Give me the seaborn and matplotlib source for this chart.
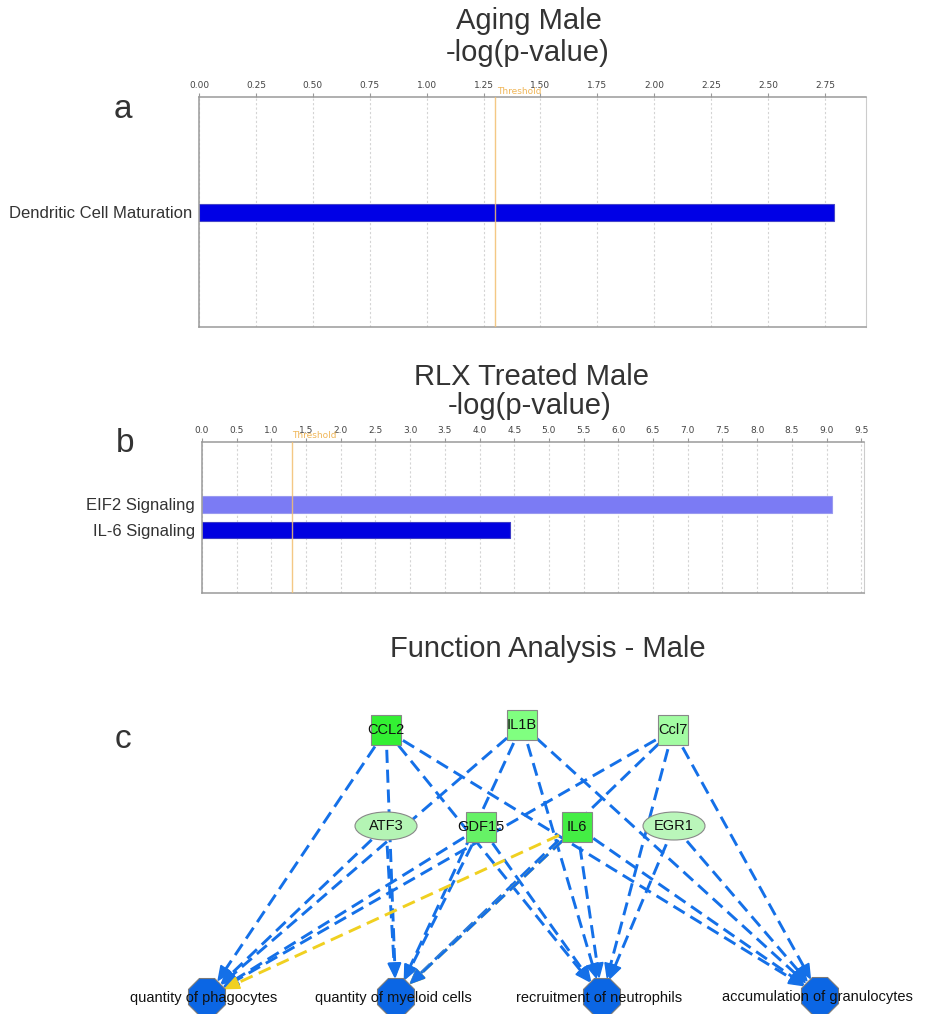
import numpy as np
import pandas as pd
import matplotlib.pyplot as plt
from matplotlib.patches import Rectangle, Ellipse, RegularPolygon, Polygon
import seaborn as sns

# Panel a - Aging Male
aging_pathways = ["Dendritic Cell Maturation"]
aging_logp = [2.79]

# Panel b - RLX Treated Male
rlx_pathways = ["EIF2 Signaling", "IL-6 Signaling"]
rlx_logp = [9.08, 4.44]

threshold = 1.3

# Panel c - network
genes = ["CCL2", "IL1B", "Ccl7", "ATF3", "GDF15", "IL6", "EGR1"]
gene_shapes = ["square", "square", "square", "ellipse", "square", "square", "ellipse"]
functions = ["quantity of phagocytes", "quantity of myeloid cells",
             "recruitment of neutrophils", "accumulation of granulocytes"]
edges = [
    ("CCL2", "quantity of phagocytes", "blue"),
    ("CCL2", "quantity of myeloid cells", "blue"),
    ("CCL2", "recruitment of neutrophils", "blue"),
    ("CCL2", "accumulation of granulocytes", "blue"),
    ("IL1B", "quantity of phagocytes", "blue"),
    ("IL1B", "quantity of myeloid cells", "blue"),
    ("IL1B", "recruitment of neutrophils", "blue"),
    ("IL1B", "accumulation of granulocytes", "blue"),
    ("Ccl7", "quantity of phagocytes", "blue"),
    ("Ccl7", "quantity of myeloid cells", "blue"),
    ("Ccl7", "recruitment of neutrophils", "blue"),
    ("Ccl7", "accumulation of granulocytes", "blue"),
    ("ATF3", "quantity of phagocytes", "blue"),
    ("ATF3", "quantity of myeloid cells", "blue"),
    ("GDF15", "quantity of phagocytes", "blue"),
    ("GDF15", "quantity of myeloid cells", "blue"),
    ("GDF15", "recruitment of neutrophils", "blue"),
    ("IL6", "quantity of phagocytes", "yellow"),
    ("IL6", "quantity of myeloid cells", "yellow"),
    ("IL6", "quantity of myeloid cells", "blue"),
    ("IL6", "recruitment of neutrophils", "blue"),
    ("IL6", "accumulation of granulocytes", "blue"),
    ("EGR1", "recruitment of neutrophils", "blue"),
    ("EGR1", "accumulation of granulocytes", "blue"),
]

# layout of the network in figure pixels
layout = {
    "CCL2": (386, 730), "IL1B": (522, 725), "Ccl7": (673, 730),
    "ATF3": (386, 826), "GDF15": (481, 827), "IL6": (577, 827), "EGR1": (674, 826),
    "quantity of phagocytes": (207, 997), "quantity of myeloid cells": (396, 997),
    "recruitment of neutrophils": (602, 997), "accumulation of granulocytes": (820, 996),
}
gene_colors = {"CCL2": "#33f033", "IL1B": "#80ff80", "Ccl7": "#a2fca2", "ATF3": "#b4f4b4",
               "GDF15": "#66f266", "IL6": "#44ee44", "EGR1": "#baf6ba"}
edge_colors = {"blue": "#1470e8", "yellow": "#f0d020"}

W, H = 928, 1014

sns.set_style("white")
plt.rcParams["font.family"] = ["Liberation Sans", "DejaVu Sans"]

fig = plt.figure(figsize=(W / 100, H / 100), dpi=100)


def fx(x):
    return x / W


def fy(y):
    return 1 - y / H


def style_bar_axis(ax, ticks, fmt, xmax):
    ax.set_xlim(0, xmax)
    ax.xaxis.tick_top()
    ax.set_xticks(ticks)
    ax.set_xticklabels([fmt % t for t in ticks], fontsize=6.5, color="#444444",
                       fontfamily="DejaVu Sans")
    ax.tick_params(axis="x", length=3, color="#999999", pad=2)
    ax.tick_params(axis="y", length=0, labelsize=12, labelcolor="#333333", pad=5)
    ax.grid(axis="x", linestyle=(0, (2, 2)), color="#d4d4d4", lw=0.8)
    ax.grid(axis="y", visible=False)
    ax.set_axisbelow(True)
    ax.set_xlabel("")
    ax.set_ylabel("")
    for side in ["left", "top", "bottom"]:
        ax.spines[side].set_color("#9a9a9a")
        ax.spines[side].set_linewidth(1.1)
    ax.spines["right"].set_color("#cccccc")
    ax.axvline(threshold, color="#f3bf70", lw=1.0, alpha=0.85, zorder=3)


# ---- panel a
ax_a = fig.add_axes([fx(199), fy(327), (866 - 199) / W, 230 / H])
df_a = pd.DataFrame({"pathway": aging_pathways, "logp": aging_logp})
sns.barplot(data=df_a, x="logp", y="pathway", hue="pathway", palette=["#0000e6"],
            saturation=1, orient="h", width=0.074, legend=False, ax=ax_a,
            edgecolor="#4646c8", linewidth=0.8)
ax_a.set_ylim(0.498, -0.502)
style_bar_axis(ax_a, np.arange(0, 2.76, 0.25), "%.2f", 2.93)

# ---- panel b
ax_b = fig.add_axes([fx(202), fy(593), (864 - 202) / W, 151 / H])
df_b = pd.DataFrame({"pathway": rlx_pathways, "logp": rlx_logp})
sns.barplot(data=df_b, x="logp", y="pathway", hue="pathway",
            palette=["#7b7bf4", "#0000e0"], saturation=1, orient="h", width=0.63,
            legend=False, ax=ax_b, linewidth=0.8)
for patch, ec in zip(ax_b.patches, ["#9a9af0", "#3c3cc8"]):
    patch.set_edgecolor(ec)
ax_b.set_ylim(3.47, -2.45)
style_bar_axis(ax_b, np.arange(0, 9.51, 0.5), "%.1f", 9.54)

# titles and panel letters
for txt, x, y in [("Aging Male", 529, 21), ("-log(p-value)", 528, 53),
                  ("RLX Treated Male", 532, 377), ("-log(p-value)", 530, 406),
                  ("Function Analysis - Male", 548, 649)]:
    fig.text(fx(x), fy(y), txt, ha="center", va="center", fontsize=21, color="#333333")
for txt, x, y in [("a", 123, 110), ("b", 125, 444), ("c", 123, 740)]:
    fig.text(fx(x), fy(y), txt, ha="center", va="center", fontsize=24, color="#333333")
fig.text(fx(497), fy(91), "Threshold", ha="left", va="center", fontsize=6.5,
         color="#f0b658", fontfamily="DejaVu Sans")
fig.text(fx(292), fy(436), "Threshold", ha="left", va="center", fontsize=6.5,
         color="#f0b658", fontfamily="DejaVu Sans")

# ---- panel c: network
ax_c = fig.add_axes([0, 0, 1, 334 / H])
ax_c.set_xlim(0, W)
ax_c.set_ylim(H, 680)
ax_c.axis("off")

target_r = 20
head_len, head_half = 14, 6
for src, dst, kind in edges:
    x0, y0 = layout[src]
    x1, y1 = layout[dst]
    d = np.array([x1 - x0, y1 - y0], dtype=float)
    u = d / np.hypot(*d)
    tip = np.array([x1, y1]) - u * target_r
    base = tip - u * head_len
    col = edge_colors[kind]
    ax_c.plot([x0, base[0]], [y0, base[1]], color=col, lw=2.1,
              linestyle=(0, (4.5, 2.3)), zorder=1, solid_capstyle="butt")
    n = np.array([-u[1], u[0]])
    ax_c.add_patch(Polygon([tip, base + n * head_half, base - n * head_half],
                           closed=True, color=col, zorder=2))

for g, shape in zip(genes, gene_shapes):
    x, y = layout[g]
    if shape == "square":
        ax_c.add_patch(Rectangle((x - 15, y - 15), 30, 30, facecolor=gene_colors[g],
                                 edgecolor="#888888", lw=0.8, zorder=3))
    else:
        ax_c.add_patch(Ellipse((x, y), 62, 28, facecolor=gene_colors[g],
                               edgecolor="#888888", lw=0.8, zorder=3))
    ax_c.text(x, y, g, ha="center", va="center", fontsize=10.5, color="#111111", zorder=4)

for f in functions:
    x, y = layout[f]
    ax_c.add_patch(RegularPolygon((x, y), numVertices=8, radius=20, orientation=np.pi / 8,
                                  facecolor="#0b66e4", edgecolor="#7a7a7a", lw=0.8, zorder=3))
    ax_c.text(x - 3, y + 1, f, ha="center", va="center", fontsize=10.5, color="#111111", zorder=4)

fig.savefig("out.png", dpi=100)
